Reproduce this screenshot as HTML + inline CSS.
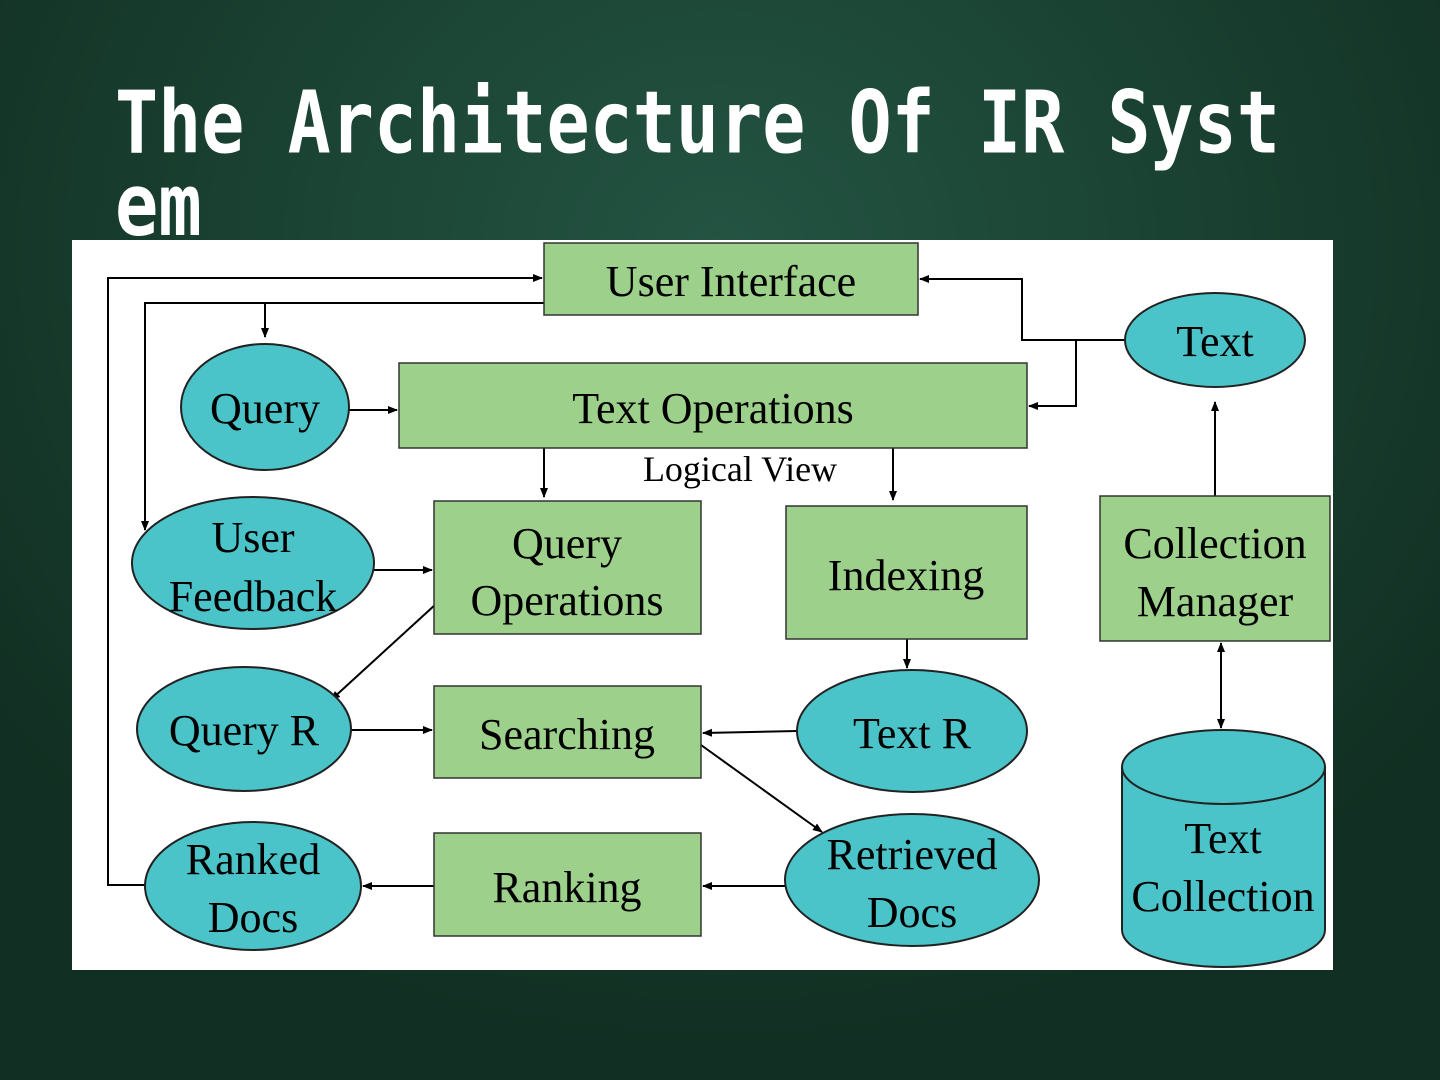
<!DOCTYPE html>
<html><head><meta charset="utf-8"><style>
html,body{margin:0;padding:0;width:1440px;height:1080px;overflow:hidden}
body{background:radial-gradient(ellipse 900px 800px at 720px 250px,#245443 0%,#1b4434 45%,#112f22 100%)}
svg{position:absolute;left:0;top:0}
.t{font-family:"Liberation Serif",serif;font-size:44px;fill:#000;text-anchor:middle}
</style></head><body>
<svg width="1440" height="1080" viewBox="0 0 1440 1080">
<defs><marker id="a" markerWidth="10" markerHeight="10" refX="9" refY="5" orient="auto" markerUnits="userSpaceOnUse"><path d="M0,1 L10,5 L0,9 z" fill="#000"/></marker>
<marker id="b" markerWidth="10" markerHeight="10" refX="1" refY="5" orient="auto" markerUnits="userSpaceOnUse"><path d="M10,1 L0,5 L10,9 z" fill="#000"/></marker></defs>
<text x="115" y="152" font-family="DejaVu Sans Mono,monospace" font-weight="bold" font-size="72" fill="#fff" textLength="1165" lengthAdjust="spacingAndGlyphs" transform="translate(0,-30) scale(1,1.2)" style="transform-box:view-box">The Architecture Of IR Syst</text>
<text x="115" y="221" font-family="DejaVu Sans Mono,monospace" font-weight="bold" font-size="72" fill="#fff" transform="translate(0,-30) scale(1,1.2)">em</text>
<rect x="72" y="240" width="1261" height="730" fill="#fff"/>
<g stroke="#000" stroke-width="2" fill="none">
<polyline points="145,885 108,885 108,278 542,278" marker-end="url(#a)"/>
<polyline points="544,303 145,303 145,530" marker-end="url(#a)"/>
<polyline points="265,303 265,337" marker-end="url(#a)"/>
<polyline points="1125,340 1022,340 1022,279 920,279" marker-end="url(#a)"/>
<polyline points="1076,340 1076,406 1029,406" marker-end="url(#a)"/>
<line x1="349" y1="410" x2="397" y2="410" marker-end="url(#a)"/>
<line x1="544" y1="448" x2="544" y2="497" marker-end="url(#a)"/>
<line x1="893" y1="448" x2="893" y2="500" marker-end="url(#a)"/>
<line x1="374" y1="570" x2="432" y2="570" marker-end="url(#a)"/>
<line x1="436" y1="604" x2="331" y2="700" marker-end="url(#a)"/>
<line x1="907" y1="639" x2="907" y2="668" marker-end="url(#a)"/>
<line x1="1215" y1="496" x2="1215" y2="402" marker-end="url(#a)"/>
<line x1="1221" y1="643" x2="1221" y2="728" marker-end="url(#a)" marker-start="url(#b)"/>
<line x1="351" y1="730" x2="432" y2="730" marker-end="url(#a)"/>
<line x1="797" y1="731" x2="703" y2="733" marker-end="url(#a)"/>
<line x1="701" y1="745" x2="822" y2="832" marker-end="url(#a)"/>
<line x1="785" y1="886" x2="703" y2="886" marker-end="url(#a)"/>
<line x1="434" y1="886" x2="363" y2="886" marker-end="url(#a)"/>
</g>
<g stroke="#333" stroke-width="1.5" fill="#9dd08a">
<rect x="544" y="243" width="374" height="72"/>
<rect x="399" y="363" width="628" height="85"/>
<rect x="434" y="501" width="267" height="133"/>
<rect x="786" y="506" width="241" height="133"/>
<rect x="1100" y="496" width="230" height="145"/>
<rect x="434" y="686" width="267" height="92"/>
<rect x="434" y="833" width="267" height="103"/>
</g>
<g stroke="#222" stroke-width="2" fill="#4bc4c9">
<ellipse cx="1215" cy="340" rx="90" ry="47"/>
<ellipse cx="265" cy="407" rx="84" ry="63"/>
<ellipse cx="253" cy="563" rx="121" ry="66"/>
<ellipse cx="244" cy="729" rx="107" ry="62"/>
<ellipse cx="912" cy="731" rx="115" ry="61"/>
<ellipse cx="253" cy="886" rx="108" ry="64"/>
<ellipse cx="912" cy="880" rx="127" ry="66"/>
<path d="M1122,767 L1122,930 A101.5,37 0 0 0 1325,930 L1325,767"/>
<ellipse cx="1223.5" cy="767" rx="101.5" ry="37"/>
</g>
<text class="t" x="731" y="296">User Interface</text>
<text class="t" x="1215" y="356">Text</text>
<text class="t" x="265" y="423">Query</text>
<text class="t" x="713" y="423">Text Operations</text>
<text class="t" x="740" y="481" style="font-size:36px">Logical View</text>
<text class="t" x="253" y="552">User</text>
<text class="t" x="253" y="611">Feedback</text>
<text class="t" x="567" y="558">Query</text>
<text class="t" x="567" y="615">Operations</text>
<text class="t" x="906" y="590">Indexing</text>
<text class="t" x="1215" y="558">Collection</text>
<text class="t" x="1215" y="616">Manager</text>
<text class="t" x="244" y="745">Query R</text>
<text class="t" x="567" y="749">Searching</text>
<text class="t" x="912" y="748">Text R</text>
<text class="t" x="1223" y="853">Text</text>
<text class="t" x="1223" y="911">Collection</text>
<text class="t" x="253" y="874">Ranked</text>
<text class="t" x="253" y="932">Docs</text>
<text class="t" x="567" y="902">Ranking</text>
<text class="t" x="912" y="869">Retrieved</text>
<text class="t" x="912" y="927">Docs</text>
</svg>
</body></html>
